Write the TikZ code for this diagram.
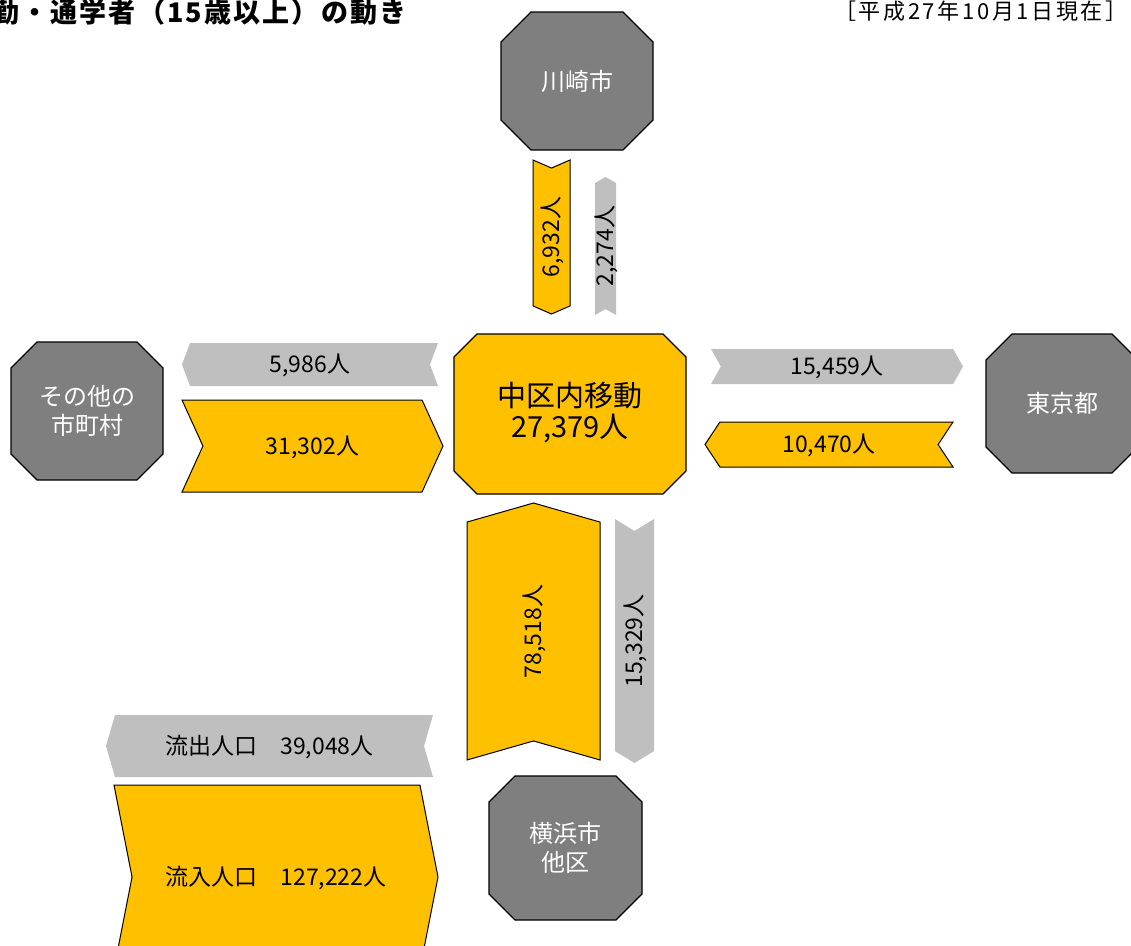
\documentclass[tikz,border=0pt]{standalone}
\usepackage{fontspec}
\setmainfont{Noto Sans CJK JP}
\usetikzlibrary{shapes.symbols}
\definecolor{myyellow}{HTML}{FFC000}
\definecolor{mygray}{HTML}{BFBFBF}
\definecolor{mydark}{HTML}{7F7F7F}
\tikzset{ % node styles, one px of the chart is one pt
  my nodes/.style={inner sep=0,font=\fontsize{23}{28}\selectfont},
  region/.style={draw=black,line width=1.3pt,fill=mydark},
  place/.style={my nodes,text=white,align=center,font=\fontsize{24}{29}\selectfont},
  flow/.style={my nodes,signal,text height=17pt,text depth=1pt},
  flow in/.style={flow,draw=black,line width=1pt,fill=myyellow},
  flow out/.style={flow,fill=mygray},
  to e/.style={signal to=east,signal from=west},
  to w/.style={signal to=west,signal from=east}
}
% octagon: [style]{centre}{half width}{half height}{corner}
\newcommand\octagon[5][]{%
  \path[#1] #2 +(-#3+#5,-#4) -- +(#3-#5,-#4) -- +(#3,-#4+#5) -- +(#3,#4-#5)
    -- +(#3-#5,#4) -- +(-#3+#5,#4) -- +(-#3,#4-#5) -- +(-#3,-#4+#5) -- cycle;}

\begin{document}
\begin{tikzpicture}[x=1pt,y=-1pt]
\useasboundingbox (0,0) rectangle (1131,945);

% headings
\node[anchor=base east,font=\bfseries\fontsize{27}{30}\selectfont\addfontfeature{LetterSpace=8}]
  (title) at (410,22) {勤・通学者（15歳以上）の動き};
\node[anchor=base east,font=\fontsize{22}{24}\selectfont\addfontfeature{LetterSpace=12}]
  (date) at (1131,19) {［平成27年10月1日現在］};

% places
\foreach \n/\x/\y/\w/\h/\c/\t in {kawasaki/577/81/76/69/30/川崎市,
    others/87/411/76/69/26/その他の\\市町村, tokyo/1062/403.5/76/69.5/26/東京都,
    yokohama/565.5/848/76.5/72/26/横浜市\\他区}
{
  \octagon[region]{(\x,\y)}{\w}{\h}{\c}
  \node[place] (\n) at (\x,\y) {\t};
}
\octagon[region,fill=myyellow]{(570,414)}{116}{80}{23}
\node[place,text=black,font=\fontsize{29}{31}\selectfont] (naka) at (570,413) {中区内移動\\27,379人};

% flows
\node[flow in,to w,rotate=90,minimum width=154pt,minimum height=37pt,signal pointer angle=133]
  (kawasaki in) at (551.5,237) {6,932人};
\node[flow out,to e,rotate=90,minimum width=138pt,minimum height=21pt,signal pointer angle=121]
  (kawasaki out) at (605.5,246) {2,274人};
\node[flow out,to w,minimum width=256pt,minimum height=43pt,signal pointer angle=139]
  (others out) at (310,364.5) {5,986人};
\node[flow in,to e,minimum width=261pt,minimum height=92pt,signal pointer angle=131]
  (others in) at (312.5,446) {31,302人};
\node[flow out,to e,minimum width=252pt,minimum height=35pt,signal pointer angle=121]
  (tokyo out) at (837,366.5) {15,459人};
\node[flow in,to w,minimum width=248pt,minimum height=45pt,signal pointer angle=113]
  (tokyo in) at (829,444.5) {10,470人};
\node[flow in,to e,rotate=90,minimum width=257pt,minimum height=133pt,signal pointer angle=148]
  (yokohama in) at (533.5,631.5) {78,518人};
\node[flow out,to w,rotate=90,minimum width=244pt,minimum height=39pt,signal pointer angle=117]
  (yokohama out) at (634.5,641) {15,329人};

% totals
\node[flow out,to w,minimum width=327pt,minimum height=62pt,signal pointer angle=147.6]
  (total out) at (269.5,746) {流出人口　39,048人};
\node[flow in,to e,minimum width=324pt,minimum height=184pt,signal pointer angle=157.8]
  (total in) at (276,877) {流入人口　127,222人};
\end{tikzpicture}
\end{document}
